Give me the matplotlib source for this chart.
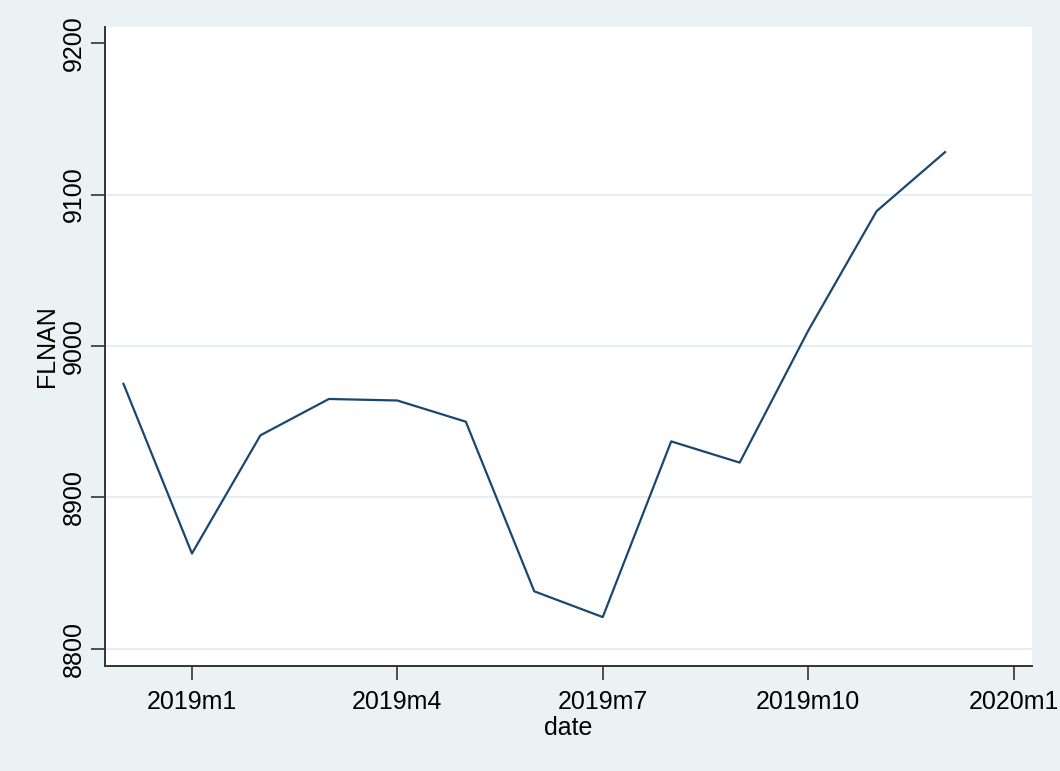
import numpy as np
import matplotlib
matplotlib.use("Agg")
import matplotlib.pyplot as plt

# monthly index: 0 = 2019m1
months = [-1, 0, 1, 2, 3, 4, 5, 6, 7, 8, 9, 10, 11]
flnan = [8975, 8863, 8941, 8965, 8964, 8950, 8838, 8821, 8937, 8923, 9010, 9089, 9128]
xtick_pos = [0, 3, 6, 9, 12]
xtick_lbl = ["2019m1", "2019m4", "2019m7", "2019m10", "2020m1"]
ytick_pos = [8800, 8900, 9000, 9100, 9200]
grid_pos = [8800, 8900, 9000, 9100]

BG = "#eaf2f3"
LINE = "#1a476f"
plt.rcParams["font.family"] = ["Liberation Sans", "DejaVu Sans"]

fig = plt.figure(figsize=(10.6, 7.71), dpi=100)
fig.patch.set_facecolor(BG)
ax = fig.add_axes([105/1060, 1 - 666/771, (1032-105)/1060, (666-27)/771])
ax.set_facecolor("white")

for g in grid_pos:
    ax.axhline(g, color="#e6eef0", lw=1.5, zorder=1)
ax.plot(months, flnan, color=LINE, lw=1.6, zorder=3)

ax.set_xlim(-1.27, 12.27)
ax.set_ylim(8788.7, 9210.6)
ax.set_xticks(xtick_pos)
ax.set_xticklabels(xtick_lbl, fontsize=18)
ax.set_yticks(ytick_pos)
ax.set_yticklabels([str(v) for v in ytick_pos], fontsize=18, rotation=90, va="center")
ax.tick_params(axis="x", length=10, width=1.2, color="#333333", pad=7)
ax.tick_params(axis="y", length=10, width=1.2, color="#333333", pad=4)

for s in ["top", "right"]:
    ax.spines[s].set_visible(False)
for s in ["left", "bottom"]:
    ax.spines[s].set_color("#333333")
    ax.spines[s].set_linewidth(1.4)

ax.set_xlabel("date", fontsize=18, labelpad=2)
ax.set_ylabel("FLNAN", fontsize=18, labelpad=2)

fig.savefig("out.png", dpi=100, facecolor=BG)
